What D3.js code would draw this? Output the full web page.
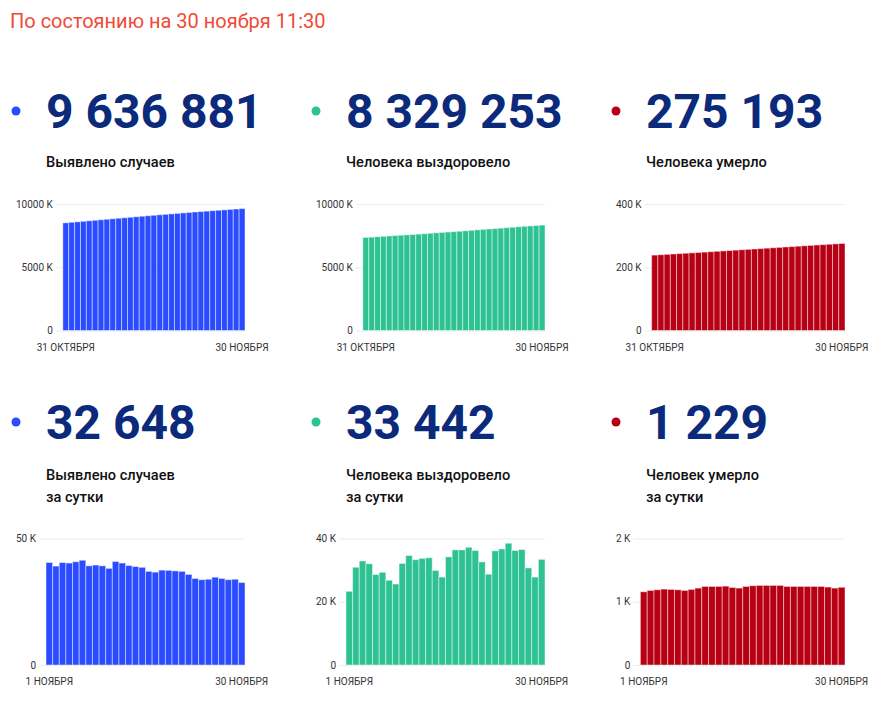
<!DOCTYPE html>
<html><head><meta charset="utf-8">
<script src="https://cdn.jsdelivr.net/npm/d3@7"></script>
<style>
body{margin:0;background:#fff;font-family:Roboto,"Noto Sans",sans-serif;}
svg{display:block}
</style></head>
<body>
<svg id="c" width="883" height="703"></svg>
<script>
// ---- DATA (values in thousands) ----
const headline = "По состоянию на 30 ноября 11:30";
const totals = ["9 636 881", "8 329 253", "275 193"];
const totalLabels = [["Выявлено случаев"], ["Человека выздоровело"], ["Человека умерло"]];
const daily = ["32 648", "33 442", "1 229"];
const dailyLabels = [["Выявлено случаев", "за сутки"], ["Человека выздоровело", "за сутки"], ["Человек умерло", "за сутки"]];
const cumLabels = ["31 ОКТЯБРЯ", "30 НОЯБРЯ"];
const dayLabels = ["1 НОЯБРЯ", "30 НОЯБРЯ"];

const casesCum = [8512, 8552.5, 8591.6, 8632.1, 8672.4, 8713.2, 8754.6, 8793.8, 8833.3, 8872.5, 8910.7,
  8951.6, 8991.9, 9031.2, 9070.1, 9108.7, 9145.7, 9182.4, 9219.9, 9257.3, 9294.5,
  9331.5, 9367.3, 9401.5, 9435.2, 9469.1, 9503.8, 9538.0, 9571.7, 9605.6, 9636.9];
const recovCum = [7357, 7380.3, 7411.2, 7444.1, 7476.1, 7504.7, 7534.0, 7560.8, 7586.4, 7618.5, 7653.1,
  7686.4, 7720.1, 7754.0, 7783.9, 7811.7, 7845.9, 7882.3, 7918.7, 7955.9, 7992.1,
  8024.7, 8053.4, 8089.5, 8126.2, 8164.7, 8200.9, 8237.4, 8268.1, 8295.9, 8329.3];
const deathsCum = [238.4, 239.56, 240.74, 241.93, 243.13, 244.33, 245.52, 246.70, 247.90, 249.12, 250.36,
  251.60, 252.84, 254.09, 255.32, 256.54, 257.78, 259.03, 260.29, 261.55, 262.81,
  264.07, 265.31, 266.55, 267.79, 269.03, 270.27, 271.51, 272.74, 273.96, 275.19];
const casesDay = [40.5, 39.1, 40.5, 40.3, 40.8, 41.4, 39.2, 39.5, 39.2, 38.2, 40.9, 40.3, 39.3, 38.9, 38.6,
  37.0, 36.7, 37.5, 37.4, 37.2, 37.0, 35.8, 34.2, 33.7, 33.9, 34.7, 34.2, 33.7, 33.9, 32.6];
const recovDay = [23.3, 30.9, 32.9, 32.0, 28.6, 29.3, 26.8, 25.6, 32.1, 34.6, 33.3, 33.7, 33.9, 29.9, 27.8,
  34.2, 36.4, 36.4, 37.2, 36.2, 32.6, 28.7, 36.1, 36.7, 38.5, 36.2, 36.5, 30.7, 27.8, 33.4];
const deathsDay = [1.158, 1.179, 1.189, 1.200, 1.195, 1.189, 1.179, 1.195, 1.216, 1.242, 1.242, 1.242, 1.247, 1.226, 1.216,
  1.242, 1.253, 1.258, 1.258, 1.258, 1.258, 1.242, 1.242, 1.242, 1.242, 1.242, 1.242, 1.232, 1.216, 1.229];
const yTicksTop = [[0, 5000, 10000], [0, 5000, 10000], [0, 200, 400]];
const yTicksBottom = [[0, 50], [0, 20, 40], [0, 1, 2]];

// ---- STYLE ----
const colors = ["#2a4bff", "#2ec293", "#b70013"];
const navy = "#0b2a7b";
const colX = [0, 300, 600];

const svg = d3.select("#c");
svg.append("text").attr("x", 10).attr("y", 28).attr("fill", "#f04a36")
  .attr("font-size", 20).text(headline);

function header(i, numY, num, lines, labY) {
  const x0 = colX[i];
  svg.append("circle").attr("cx", x0 + 16).attr("cy", numY - 17).attr("r", 4.5).attr("fill", colors[i]);
  svg.append("text").attr("x", x0 + 46).attr("y", numY).attr("fill", navy)
    .attr("font-size", 48).attr("font-weight", 700).text(num);
  lines.forEach((l, k) => {
    svg.append("text").attr("x", x0 + 46).attr("y", labY + k * 22).attr("fill", "#111")
      .attr("font-size", 14.6).attr("font-weight", 500).text(l);
  });
}

function chart(i, values, ticks, xLabels, top, bottom) {
  const x0 = colX[i];
  const g = svg.append("g");
  const fmt = d => d === 0 ? "0" : d + " K";
  const tmp = g.append("text").attr("font-size", 10).text(fmt(d3.max(ticks)));
  const lw = tmp.node().getComputedTextLength();
  tmp.remove();
  const labelRight = x0 + 16 + lw;
  const left = labelRight + 10, right = x0 + 245;
  const y = d3.scaleLinear().domain([0, d3.max(ticks)]).range([bottom, top]);
  const x = d3.scaleBand().domain(d3.range(values.length)).range([left, right]).paddingInner(0);
  const ax = d3.axisLeft(y).tickValues(ticks).tickFormat(fmt).tickSize(-(right - labelRight - 3)).tickPadding(3);
  const ag = g.append("g").attr("transform", `translate(${labelRight + 3},0)`).call(ax);
  ag.select(".domain").remove();
  ag.selectAll(".tick line").attr("stroke", "#ececec");
  ag.selectAll(".tick text").attr("fill", "#333").attr("font-size", 10).attr("font-family", "Roboto");
  g.selectAll("rect.bar").data(values).join("rect").attr("class", "bar")
    .attr("x", (d, j) => x(j)).attr("width", x.bandwidth())
    .attr("y", d => y(d)).attr("height", d => bottom - y(d))
    .attr("fill", colors[i]).attr("stroke", "rgba(255,255,255,0.45)").attr("stroke-width", 1);
  [0, values.length - 1].forEach((j, k) => {
    g.append("text").attr("x", x(j) + x.bandwidth() / 2).attr("y", bottom + 20)
      .attr("text-anchor", "middle").attr("font-size", 10).attr("fill", "#333").text(xLabels[k]);
  });
}

const cum = [casesCum, recovCum, deathsCum];
const day = [casesDay, recovDay, deathsDay];
for (let i = 0; i < 3; i++) {
  header(i, 128, totals[i], totalLabels[i], 167);
  header(i, 439, daily[i], dailyLabels[i], 480);
  chart(i, cum[i], yTicksTop[i], cumLabels, 204, 330.5);
  chart(i, day[i], yTicksBottom[i], dayLabels, 538.5, 665);
}
</script>
</body></html>
